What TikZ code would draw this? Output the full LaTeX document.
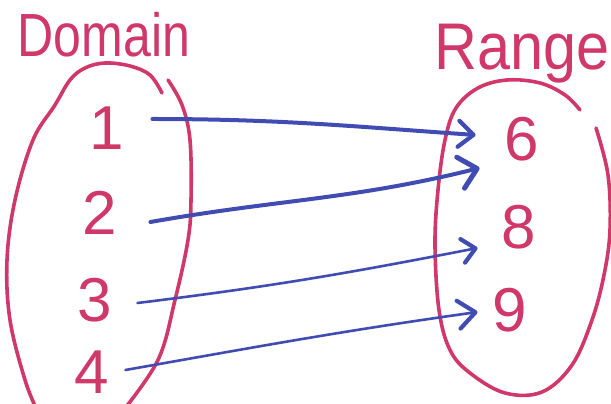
\documentclass[tikz,border=0pt]{standalone}
\usepackage{fontspec}
\setmainfont{Liberation Sans}
\usetikzlibrary{arrows.meta}
\definecolor{ink}{RGB}{208,56,106}
\definecolor{pen}{RGB}{64,76,178}
\begin{document}
\begin{tikzpicture}[x=1pt,y=1pt,
  outline/.style={draw=ink,line width=3.6pt,line cap=round,line join=round},
  num/.style={text=ink,inner sep=0pt,font=\fontsize{62}{62}\selectfont},
  title/.style={text=ink,inner sep=0pt,anchor=base},
  link/.style={draw=pen,line cap=round,line width=#1},
  barb/.style n args={3}{-{Straight Barb[length=#1,width=#2,line width=#3,round]}}
]
\useasboundingbox (0,0) rectangle (611,404);

% set headings
\node[title,font=\fontsize{61}{61}\selectfont] (dom) at (104,347) {\scalebox{0.82}[1]{Domain}};
\node[title,font=\fontsize{66}{66}\selectfont] (ran) at (522,334) {\scalebox{0.9}[1]{Range}};

% the two set outlines
\begin{scope}
  \clip (0,0) rectangle (611,404);
  % domain: right side with the overlapping top tick
  \draw[outline] plot[smooth,tension=0.6] coordinates
    {(122,-8) (158,44) (175,104) (188,164) (191,204) (190,264) (182,299) (168,324)};
  % domain: top arc and left side
  \draw[outline] plot[smooth,tension=0.6] coordinates
    {(162,311) (150,329) (130,338) (105,341) (85,336) (70,324) (55,299) (33,264)
     (15,204) (7,144) (10,84) (25,24) (37,-6)};
  % range outline
  \draw[outline] plot[smooth,tension=0.6] coordinates
    {(596,276) (608,229) (610,174) (604,129) (592,84) (572,39) (542,12) (505,11)
     (470,31) (450,54) (439,94) (435,159) (438,214) (445,264) (456,296) (478,316)
     (507,324) (540,321) (565,309) (580,294)};
\end{scope}

% domain elements
\node[num] (d1) at (107,276) {1};
\node[num] (d2) at (100,191) {2};
\node[num] (d3) at (95,104) {3};
\node[num] (d4) at (92,32) {4};

% range elements
\node[num] (r6) at (522,265) {6};
\node[num] (r8) at (519,177) {8};
\node[num] (r9) at (510,94) {9};

% mapping arrows
\draw[link=4pt, barb={15pt}{26pt}{4.2pt}]
  ([shift={(28,9)}]d1.east) to[out=0,in=176] ([shift={(-29,4)}]r6.west);
\draw[link=4pt, barb={17pt}{32pt}{5pt}]
  ([shift={(33,-9)}]d2.east) to[out=10,in=194] ([shift={(-25,-29)}]r6.west);
\draw[link=2.6pt, barb={13pt}{24pt}{4.2pt}]
  ([shift={(25,-3)}]d3.east) to[out=7,in=191] ([shift={(-24,-21)}]r8.west);
\draw[link=2.6pt, barb={17pt}{28pt}{4.2pt}]
  ([shift={(16,2)}]d4.east) to[out=10,in=188] ([shift={(-15,-2)}]r9.west);
\end{tikzpicture}
\end{document}
